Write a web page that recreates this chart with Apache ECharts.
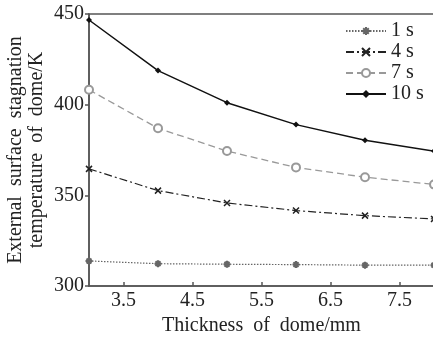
<!DOCTYPE html>
<html>
<head>
<meta charset="utf-8">
<script src="https://cdn.jsdelivr.net/npm/echarts@6/dist/echarts.min.js"></script>
<style>
  html, body { margin: 0; padding: 0; background: #fff; }
  #chart { width: 433px; height: 338px; }
</style>
</head>
<body>
<div id="chart"></div>
<script>
// thickness of dome (mm)
const thickness = [3, 4, 5, 6, 7, 8];
const xTicks = [3.5, 4.5, 5.5, 6.5, 7.5];
const yTicks = [300, 350, 400, 450];

// stagnation temperature (K) at each time
const t1s = [313.8, 312.3, 312.0, 311.8, 311.5, 311.5];
const t4s = [364.6, 352.6, 345.8, 341.6, 338.8, 337.0];
const t7s = [408.2, 387.0, 374.4, 365.4, 360.0, 356.0];
const t10s = [446.7, 418.8, 401.1, 389.0, 380.4, 374.4];

const FONT = "'Liberation Serif', 'Times New Roman', serif";
const pairs = (ys) => thickness.map((x, i) => [x, ys[i]]);

const chart = echarts.init(document.getElementById('chart'));

const option = {
  animation: false,
  textStyle: { fontFamily: FONT, color: '#222' },
  grid: {
    left: 89,
    top: 14,
    width: 345,
    bottom: 52,
    outerBoundsMode: 'none',
    containLabel: false,
    show: true,
    borderColor: '#555',
    borderWidth: 1.5,
  },
  legend: {
    left: 345,
    top: 21,
    padding: 0,
    orient: 'vertical',
    itemWidth: 40,
    itemHeight: 10,
    itemGap: 1,
    textStyle: { fontFamily: FONT, fontSize: 20, color: '#222', lineHeight: 18 },
    data: ['1 s', '4 s', '7 s', '10 s'],
  },
  xAxis: {
    type: 'value',
    min: 3,
    max: 8,
    name: 'Thickness  of  dome/mm',
    nameLocation: 'middle',
    nameGap: 30,
    nameMoveOverlap: false,
    nameTextStyle: { fontFamily: FONT, fontSize: 20, color: '#222' },
    axisLine: { lineStyle: { color: '#555', width: 1.5 } },
    axisTick: { inside: true, length: 4, customValues: xTicks, lineStyle: { color: '#555', width: 1.5 } },
    axisLabel: {
      customValues: xTicks,
      formatter: (v) => v.toFixed(1),
      fontFamily: FONT,
      fontSize: 20,
      color: '#222',
      margin: 5,
    },
    splitLine: { show: false },
  },
  yAxis: {
    type: 'value',
    min: 300,
    max: 450,
    interval: 50,
    name: 'External  surface  stagnation\ntemperature  of  dome/K',
    nameLocation: 'middle',
    nameGap: 42,
    nameMoveOverlap: false,
    nameTextStyle: { fontFamily: FONT, fontSize: 20, color: '#222', lineHeight: 21 },
    axisLine: { lineStyle: { color: '#555', width: 1.5 } },
    axisTick: { inside: false, length: 4, customValues: yTicks, lineStyle: { color: '#555', width: 1.5 } },
    axisLabel: {
      customValues: yTicks,
      fontFamily: FONT,
      fontSize: 20,
      color: '#222',
      margin: 5,
    },
    splitLine: { show: false },
  },
  series: [
    {
      name: '1 s',
      type: 'line',
      data: pairs(t1s),
      symbol: 'path://M5,0L5,10M0,5L10,5M1.5,1.5L8.5,8.5M8.5,1.5L1.5,8.5',
      symbolSize: 7,
      lineStyle: { color: '#666', width: 1.2, type: [1.5, 1.5] },
      itemStyle: { color: '#666', borderColor: '#666', borderWidth: 2 },
    },
    {
      name: '4 s',
      type: 'line',
      data: pairs(t4s),
      symbol: 'path://M0,0L10,10M10,0L0,10',
      symbolSize: 6,
      lineStyle: { color: '#222', width: 1.2, type: [8, 3, 2, 3] },
      itemStyle: { color: '#222', borderColor: '#222', borderWidth: 1.5 },
    },
    {
      name: '7 s',
      type: 'line',
      data: pairs(t7s),
      symbol: 'emptyCircle',
      symbolSize: 8,
      lineStyle: { color: '#999', width: 1.3, type: [7, 4] },
      itemStyle: { color: '#999', borderColor: '#999', borderWidth: 1.2 },
    },
    {
      name: '10 s',
      type: 'line',
      data: pairs(t10s),
      symbol: 'diamond',
      symbolSize: 6,
      lineStyle: { color: '#111', width: 1.5 },
      itemStyle: { color: '#111' },
    },
  ],
};

chart.setOption(option);
</script>
</body>
</html>
